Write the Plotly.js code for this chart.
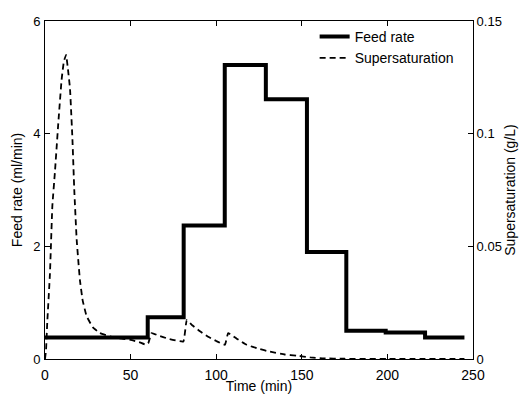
<!DOCTYPE html>
<html>
<head>
<meta charset="utf-8">
<script src="https://cdn.plot.ly/plotly-3.0.1.min.js"></script>
<style>html,body{margin:0;padding:0;background:#fff;}#chart{width:524px;height:394px;}</style>
</head>
<body>
<div id="chart"></div>
<script>
// Feed rate step profile (ml/min), value holds until next time point
var feedTime = [0, 60, 81, 105, 129, 153, 176, 199, 222, 245];
var feedRate = [0.38, 0.74, 2.37, 5.22, 4.61, 1.90, 0.50, 0.47, 0.38, 0.38];

// Supersaturation (g/L)
var ssTime = [0, 0.6, 1.3, 2.9, 4.3, 5.8, 7.8, 9.7, 11, 12.3, 13.5, 14.6, 16, 17.1, 18.5, 20.4, 22, 24.3, 28, 32, 38, 45, 50, 55, 59, 60.3, 62.3, 66, 72, 80.8, 82.8, 86, 90.5, 95, 100, 105.1, 107, 112, 117.8, 125, 131, 140, 147, 155, 162, 175, 200, 245];
var ssVal  = [0, 0.004, 0.016, 0.038, 0.068, 0.083, 0.105, 0.124, 0.132, 0.135, 0.128, 0.120, 0.098, 0.075, 0.053, 0.035, 0.026, 0.019, 0.014, 0.0115, 0.010, 0.009, 0.0085, 0.0075, 0.0063, 0.007, 0.0115, 0.0105, 0.009, 0.0078, 0.0173, 0.015, 0.0123, 0.010, 0.008, 0.0063, 0.0115, 0.009, 0.0063, 0.0045, 0.0033, 0.002, 0.0015, 0.0007, 0.0003, 0.0001, 0, 0];

var xTicks = [0, 50, 100, 150, 200, 250];
var yTicks = [0, 2, 4, 6];
var y2Ticks = [0, 0.05, 0.1, 0.15];
var y2TickText = ['0', '0.05', '0.1', '0.15'];

var font = 'Liberation Sans, Arial, sans-serif';

var traces = [
  {x: feedTime, y: feedRate, name: 'Feed rate', mode: 'lines', line: {shape: 'hv', color: '#000', width: 4}, yaxis: 'y'},
  {x: ssTime, y: ssVal, name: 'Supersaturation', mode: 'lines', line: {color: '#000', width: 1.8, dash: '6px,4px', shape: 'spline', smoothing: 0.3}, yaxis: 'y2'}
];

var layout = {
  width: 524, height: 394,
  margin: {l: 45, r: 51, t: 21, b: 35, pad: 0},
  paper_bgcolor: '#fff', plot_bgcolor: '#fff',
  font: {family: font, size: 13, color: '#000'},
  showlegend: true,
  legend: {x: 0.63, y: 1.0, xanchor: 'left', yanchor: 'top', bgcolor: 'rgba(0,0,0,0)', font: {size: 14}, tracegroupgap: 0, itemwidth: 30},
  xaxis: {
    range: [0, 250], tickvals: xTicks, ticktext: xTicks.map(String),
    ticks: 'inside', ticklen: 5, tickcolor: '#000', showline: true, linecolor: '#000', linewidth: 1,
    mirror: 'ticks', showgrid: false, zeroline: false,
    tickfont: {size: 14, color: '#000'}, ticklabelstandoff: 3,
    title: {text: 'Time (min)', font: {size: 14}, standoff: 1}
  },
  yaxis: {
    range: [0, 6], tickvals: yTicks, ticks: 'inside', ticklen: 5, tickcolor: '#000',
    showline: true, linecolor: '#000', linewidth: 1, showgrid: false, zeroline: false,
    tickfont: {size: 13}, ticklabelstandoff: 1,
    title: {text: 'Feed rate (ml/min)', font: {size: 14}, standoff: 7}
  },
  yaxis2: {
    range: [0, 0.15], tickvals: y2Ticks, ticktext: y2TickText, overlaying: 'y', side: 'right',
    ticks: 'inside', ticklen: 5, tickcolor: '#000',
    showline: true, linecolor: '#000', linewidth: 1, showgrid: false, zeroline: false,
    tickfont: {size: 13},
    title: {text: 'Supersaturation (g/L)', font: {size: 14}, standoff: 4}
  }
};

Plotly.newPlot('chart', traces, layout, {staticPlot: true, displayModeBar: false});
</script>
</body>
</html>
